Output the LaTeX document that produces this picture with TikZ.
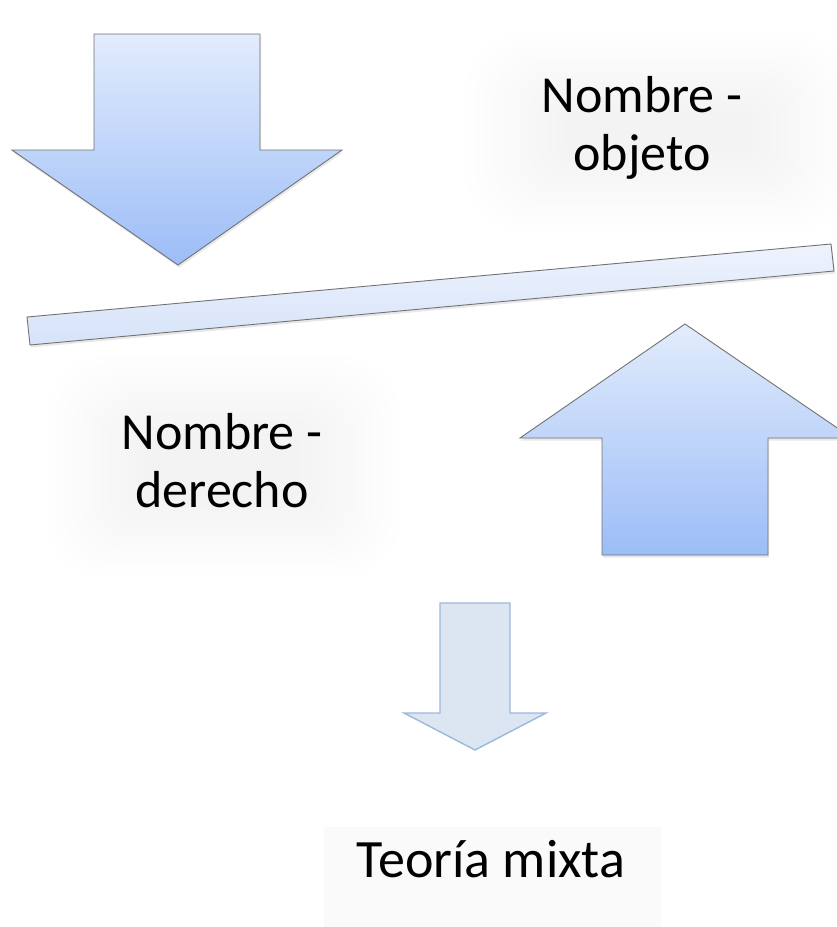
\documentclass[tikz,border=0pt]{standalone}
\usepackage{fontspec}
\setmainfont{Carlito}
\usetikzlibrary{shadows}
\definecolor{arrtop}{HTML}{E2ECFC}
\definecolor{arrbot}{HTML}{9CBDF7}
\definecolor{arrline}{HTML}{727272}
\definecolor{plktop}{HTML}{EEF3FD}
\definecolor{plkbot}{HTML}{D6E3F9}
\definecolor{smfill}{HTML}{DCE6F2}
\definecolor{smline}{HTML}{9BB8DC}
\definecolor{boxfill}{HTML}{FAFAFA}
\tikzset{
  bigarrow/.style={draw=arrline, line width=0.9pt, line join=miter, top color=arrtop, bottom color=arrbot,
    drop shadow={opacity=0.18, shadow xshift=1pt, shadow yshift=-2.5pt}},
  plank/.style={draw=arrline, line width=0.9pt, top color=plktop, bottom color=plkbot,
    drop shadow={opacity=0.18, shadow xshift=1pt, shadow yshift=-2.5pt}},
  smallarrow/.style={draw=smline, line width=1.4pt, fill=smfill},
  lbl/.style={font=\fontsize{52}{58}\selectfont, align=center, text=black, inner sep=0pt},
  glowlayer/.style={fill=black, fill opacity=0.0045, draw=none}
}
\begin{document}
\begin{tikzpicture}[x=1pt,y=-1pt]
\useasboundingbox (0,0) rectangle (837,927);
\clip (0,0) rectangle (837,927);
% glows behind labels
\foreach \i in {0,...,11}{
  \fill[glowlayer, rounded corners={60-4*\i}] (466+9*\i,32+7*\i) rectangle (852-9*\i,232-7*\i);
  \fill[glowlayer, rounded corners={60-4*\i}] (46+9*\i,356+7*\i) rectangle (400-9*\i,578-7*\i);
}
% big down arrow
\path[bigarrow] (94,34) -- (260,34) -- (260,150) -- (342,150) -- (178,265) -- (12,150) -- (94,150) -- cycle;
% plank
\path[plank] (27,317) -- (831,244) -- (834,271) -- (30,345) -- cycle;
% big up arrow
\path[bigarrow] (685,324) -- (852,438) -- (768,438) -- (768,555) -- (602,555) -- (602,438) -- (520,438) -- cycle;
% small down arrow
\path[smallarrow] (440,603) -- (510,603) -- (510,713) -- (546,713) -- (475,750) -- (404,713) -- (440,713) -- cycle;
% result box
\fill[boxfill] (324,827) rectangle (661,927);
% labels (base anchor = baseline of the last line)
\node[lbl, anchor=base] (obj) at (642,170) {Nombre -\\objeto};
\node[lbl, anchor=base] (der) at (222,507) {Nombre -\\derecho};
\node[lbl, anchor=base, font=\fontsize{54}{60}\selectfont] (mix) at (491,877) {Teoría mixta};
\end{tikzpicture}
\end{document}
